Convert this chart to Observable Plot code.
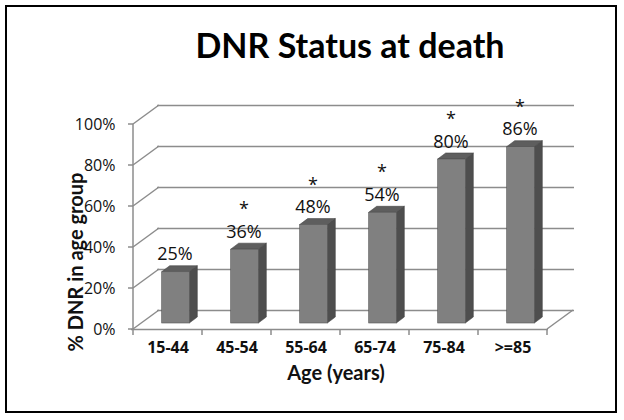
<!DOCTYPE html>
<html>
<head>
<meta charset="utf-8">
<script src="https://cdn.jsdelivr.net/npm/d3@7"></script>
<script src="https://cdn.jsdelivr.net/npm/@observablehq/plot@0.6"></script>
<style>
  html, body { margin: 0; padding: 0; background: #fff; }
  #chart {
    position: absolute; left: 5px; top: 5px;
    width: 612px; height: 408px;
    box-sizing: border-box; border: 2px solid #000;
    background: #fff; overflow: hidden;
  }
  #title {
    height: 80px; line-height: 76px;
    padding-left: 78px; box-sizing: border-box;
    text-align: center;
    font-family: Lato, "Open Sans", sans-serif;
    font-weight: bold; font-size: 34px; color: #000;
  }
  #chart svg { display: block; }
</style>
</head>
<body>
<div id="chart"><div id="title">DNR Status at death</div></div>
<script>
// ---- data ----
const ageGroups = ["15-44", "45-54", "55-64", "65-74", "75-84", ">=85"];
const dnrPct = [25, 36, 48, 54, 80, 86];
const significant = [false, true, true, true, true, true];
const yTicks = [0, 20, 40, 60, 80, 100];
const yTickLabels = ["0%", "20%", "40%", "60%", "80%", "100%"];
const xTitle = "Age (years)";
const yTitle = "% DNR in age group";

const rows = ageGroups.map((g, i) => ({age: g, pct: dnrPct[i], sig: significant[i]}));

// ---- 3D styling constants (pixels) ----
const DEPTH_X = 26, DEPTH_Y = -19;   // wall depth
const BAR_OX = 8, BAR_OY = -6;       // bar front offset into the depth
const BAR_DX = 8, BAR_DY = -6;       // bar depth
const INSET = 20.7;
const gridColor = "#8c8c8c";

function wallsMark(index, scales) {
  const {x, y} = scales;
  const bw = x.bandwidth();
  const xs = x(ageGroups[0]);
  const xe = x(ageGroups[ageGroups.length - 1]) + bw;
  const g = d3.create("svg:g").attr("fill", "none").attr("stroke", gridColor).attr("stroke-width", 1.5);
  g.append("line").attr("x1", xs).attr("x2", xs).attr("y1", y(0)).attr("y2", y(100));
  for (const t of yTicks) {
    g.append("line").attr("x1", xs - 5).attr("x2", xs).attr("y1", y(t)).attr("y2", y(t));
    g.append("line").attr("x1", xs).attr("y1", y(t)).attr("x2", xs + DEPTH_X).attr("y2", y(t) + DEPTH_Y);
  }
  g.append("line").attr("x1", xe).attr("y1", y(0)).attr("x2", xe + DEPTH_X).attr("y2", y(0) + DEPTH_Y);
  const bounds = ageGroups.map(a => x(a)).concat([xe]);
  for (const b of bounds) {
    g.append("line").attr("x1", b).attr("x2", b).attr("y1", y(0)).attr("y2", y(0) + 6);
  }
  return g.node();
}

function barFacesMark(index, scales) {
  const {x, y} = scales;
  const bw = x.bandwidth();
  const g = d3.create("svg:g").attr("stroke", "#444").attr("stroke-width", 0.6).attr("stroke-linejoin", "round");
  for (const r of rows) {
    const xl = x(r.age) + INSET + BAR_OX;
    const xr = x(r.age) + bw - INSET + BAR_OX;
    const yt = y(r.pct) + BAR_OY;
    const yb = y(0) + BAR_OY;
    g.append("polygon").attr("fill", "#4e4e4e")
      .attr("points", [[xr, yb], [xr, yt], [xr + BAR_DX, yt + BAR_DY], [xr + BAR_DX, yb + BAR_DY]].join(" "));
    g.append("polygon").attr("fill", "#5e5e5e")
      .attr("points", [[xl, yt], [xr, yt], [xr + BAR_DX, yt + BAR_DY], [xl + BAR_DX, yt + BAR_DY]].join(" "));
  }
  return g.node();
}

const plot = Plot.plot({
  width: 608,
  height: 324,
  marginLeft: 124,
  marginRight: 67,
  marginTop: 37,
  marginBottom: 82,
  style: {fontFamily: "Lato, 'Open Sans', sans-serif", fontSize: "15px", background: "#fff", color: "#111"},
  x: {domain: ageGroups, padding: 0, axis: null},
  y: {domain: [0, 100], axis: null},
  marks: [
    Plot.ruleY(yTicks, {y: d => d, dx: DEPTH_X, dy: DEPTH_Y, stroke: gridColor, strokeWidth: 1.5}),
    Plot.ruleY([0], {stroke: gridColor, strokeWidth: 1.5}),
    wallsMark,
    barFacesMark,
    Plot.barY(rows, {x: "age", y: "pct", insetLeft: INSET, insetRight: INSET, dx: BAR_OX, dy: BAR_OY,
      fill: "#808080", stroke: "#555", strokeWidth: 0.6}),
    // data labels (asterisk line above value when significant)
    Plot.text(rows, {x: "age", y: "pct", text: d => (d.sig ? "*\n" : "") + d.pct + "%",
      lineAnchor: "bottom", lineHeight: 1.25, dx: BAR_OX - 1, dy: BAR_OY - 12,
      fontFamily: "'Open Sans', sans-serif", fontSize: 18, fill: "#111"}),
    // y tick labels
    Plot.text(yTicks, {y: d => d, text: (d, i) => yTickLabels[i], frameAnchor: "left", textAnchor: "end",
      dx: -16, fontFamily: "'Open Sans', sans-serif", fontSize: 16, fill: "#111"}),
    // x tick labels
    Plot.text(ageGroups, {x: d => d, text: d => d, frameAnchor: "bottom", dy: 23,
      fontFamily: "'Open Sans', sans-serif", fontSize: 16, fontWeight: "bold", fill: "#111"}),
    // axis titles
    Plot.text([xTitle], {frameAnchor: "bottom", textAnchor: "middle", dx: -4, dy: 50, fontSize: 20,
      fontWeight: "bold", fill: "#111"}),
    Plot.text([yTitle], {frameAnchor: "left", textAnchor: "middle", rotate: -90, dx: -55, dy: 35,
      fontSize: 20, fontWeight: "bold", fill: "#111"})
  ]
});
document.getElementById("chart").appendChild(plot);
</script>
</body>
</html>
